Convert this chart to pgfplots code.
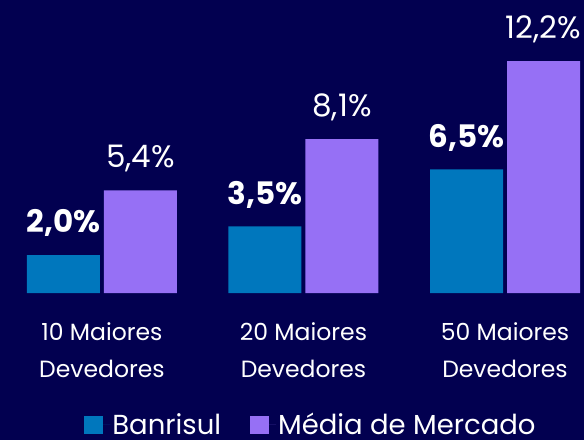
\documentclass[border=0pt]{standalone}
\usepackage{pgfplots}
\pgfplotsset{compat=1.18}
\usepackage{fontspec}
\setmainfont{Poppins}
\definecolor{bg}{RGB}{2,0,80}
\definecolor{banblue}{RGB}{0,119,189}
\definecolor{mpurple}{RGB}{150,112,245}
\begin{document}
\begin{tikzpicture}
\fill[bg] (0,0) rectangle (584pt,440pt);
\begin{axis}[
  at={(0pt,147pt)}, anchor=south west,
  scale only axis, width=584pt, height=293pt,
  xmin=-0.506, xmax=2.392, ymin=0, ymax=15.42,
  ybar=4pt, bar width=73pt,
  axis line style={draw=none}, tick style={draw=none},
  ytick=\empty, xtick={0,1,2},
  xticklabels={{10 Maiores\\Devedores},{20 Maiores\\Devedores},{50 Maiores\\Devedores}},
  xticklabel style={align=center, text=white, font=\fontsize{23.5}{37}\selectfont, yshift=-22pt},
  clip=false,
  point meta=explicit symbolic,
  nodes near coords,
  every node near coord/.append style={anchor=center, yshift=32pt, text=white},
  legend style={at={(0.5325,-0.449)}, anchor=center, draw=none, fill=none, text=white,
    font=\fontsize{27.5}{30}\selectfont, legend columns=2, inner ysep=0pt,
    nodes={inner ysep=0pt},
    /tikz/every even column/.append style={column sep=27pt}},
  legend image code/.code={\fill[#1] (0pt,-9pt) rectangle (19pt,9pt); \path (0pt,0pt) -- (26pt,0pt);},
]
\addplot[fill=banblue, draw=none, every node near coord/.append style={font=\fontsize{31}{36}\selectfont\bfseries}]
  coordinates {(0,2.0)[2,0\%] (1,3.5)[3,5\%] (2,6.5)[6,5\%]};
\addplot[fill=mpurple, draw=none, every node near coord/.append style={font=\fontsize{31}{36}\selectfont}]
  coordinates {(0,5.4)[5,4\%] (1,8.1)[8,1\%] (2,12.2)[12,2\%]};
\legend{Banrisul, Média de Mercado}
\end{axis}
\pgfresetboundingbox
\path (0,0) rectangle (584pt,440pt);
\end{tikzpicture}
\end{document}
